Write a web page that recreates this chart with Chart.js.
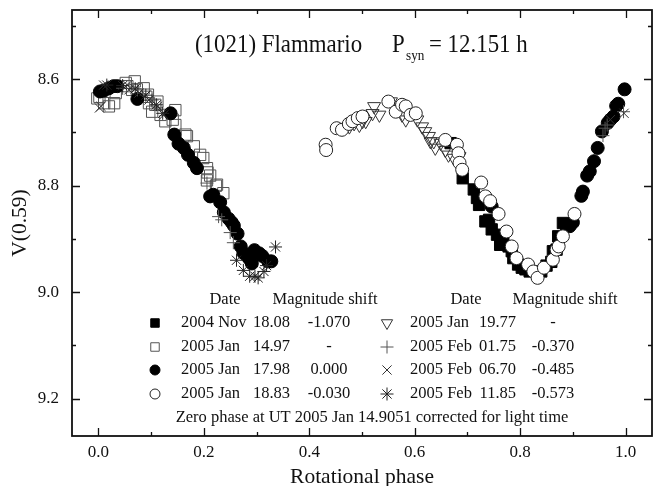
<!DOCTYPE html>
<html><head><meta charset="utf-8">
<script src="https://cdn.jsdelivr.net/npm/chart.js@4"></script>
<style>html,body{margin:0;padding:0;background:#fff;}#wrap{width:654px;height:486px;}</style>
</head><body><div id="wrap"><canvas id="c" width="654" height="486"></canvas></div>
<script>
// ---------- DATA ----------
const xTickValues = [0.0, 0.2, 0.4, 0.6, 0.8, 1.0];
const xMinorValues = [0.1, 0.3, 0.5, 0.7, 0.9];
const yTickValues = [8.6, 8.8, 9.0, 9.2];
const yMinorValues = [8.5, 8.7, 8.9, 9.1];

const seriesMonths = ['2004 Nov', '2005 Jan', '2005 Jan', '2005 Jan', '2005 Jan', '2005 Feb', '2005 Feb', '2005 Feb'];
const seriesDays   = ['18.08', '14.97', '17.98', '18.83', '19.77', '01.75', '06.70', '11.85'];
const seriesShifts = ['-1.070', '-', '0.000', '-0.030', '-', '-0.370', '-0.485', '-0.573'];

const nov18Phase = [0.668,0.691,0.712,0.718,0.722,0.734,0.741,0.746,0.756,0.762,0.768,0.778,0.784,0.787,0.796,0.803,0.810,0.818,0.840,0.850,0.859,0.862,0.869,0.872,0.881,0.887];
const nov18Mag   = [8.720,8.786,8.807,8.823,8.836,8.867,8.864,8.882,8.892,8.911,8.907,8.914,8.923,8.936,8.948,8.954,8.957,8.961,8.961,8.950,8.943,8.923,8.920,8.895,8.870,8.873];

const jan14Phase = [-0.002,0.002,0.011,0.020,0.030,0.033,0.052,0.055,0.064,0.069,0.073,0.086,0.091,0.094,0.096,0.102,0.108,0.112,0.118,0.127,0.141,0.146,0.146,0.165,0.168,0.181,0.193,0.199,0.206,0.212,0.206,0.207,0.223,0.225,0.237];
const jan14Mag   = [8.636,8.633,8.645,8.651,8.645,8.626,8.607,8.613,8.620,8.604,8.619,8.617,8.633,8.629,8.645,8.661,8.648,8.642,8.667,8.679,8.676,8.658,8.686,8.704,8.707,8.726,8.742,8.748,8.767,8.781,8.790,8.775,8.800,8.798,8.814];

const jan17Phase = [0.003,0.011,0.020,0.029,0.036,0.074,0.137,0.144,0.152,0.162,0.170,0.181,0.187,0.212,0.218,0.231,0.238,0.247,0.253,0.257,0.264,0.270,0.275,0.282,0.286,0.291,0.296,0.305,0.311,0.322,0.328,
                    0.746,0.894,0.900,0.916,0.919,0.927,0.932,0.940,0.947,0.955,0.966,0.971,0.977,0.982,0.986,0.998];
const jan17Mag   = [8.623,8.621,8.617,8.613,8.613,8.637,8.664,8.704,8.721,8.729,8.742,8.757,8.767,8.820,8.817,8.831,8.850,8.862,8.869,8.875,8.890,8.914,8.926,8.932,8.937,8.946,8.921,8.927,8.932,8.942,8.942,
                    8.839,8.876,8.869,8.819,8.811,8.781,8.773,8.754,8.729,8.698,8.682,8.676,8.670,8.650,8.646,8.619];

const jan18Phase = [0.431,0.432,0.452,0.462,0.475,0.482,0.492,0.501,0.550,0.564,0.576,0.583,0.592,0.602,0.658,0.680,0.683,0.685,0.690,0.726,0.734,0.743,0.759,0.774,0.784,0.793,0.815,0.825,0.833,0.845,0.862,0.869,0.873,0.881,0.903];
const jan18Mag   = [8.723,8.733,8.692,8.695,8.684,8.679,8.673,8.670,8.642,8.661,8.648,8.651,8.667,8.664,8.714,8.723,8.739,8.757,8.770,8.794,8.820,8.829,8.853,8.886,8.914,8.936,8.948,8.961,8.973,8.954,8.939,8.920,8.914,8.895,8.853];

const jan19Phase = [0.476,0.485,0.495,0.501,0.507,0.520,0.523,0.533,0.555,0.563,0.576,0.583,0.605,0.614,0.620,0.627,0.630,0.636,0.639,0.649,0.658,0.664,0.674,0.685];
const jan19Mag   = [8.689,8.683,8.686,8.679,8.679,8.664,8.651,8.667,8.642,8.654,8.667,8.676,8.676,8.689,8.698,8.707,8.717,8.717,8.729,8.720,8.733,8.742,8.748,8.745];

const feb01Phase = [0.046,0.074,0.102,0.206,0.228,0.234,0.250,0.256,0.957,0.961,0.965,0.996];
const feb01Mag   = [8.617,8.620,8.639,8.795,8.858,8.864,8.888,8.907,8.706,8.692,8.686,8.661];

const feb06Phase = [0.002,0.005,0.010,0.055,0.058,0.077,0.096,0.112,0.124,0.971,0.997];
const feb06Mag   = [8.654,8.651,8.611,8.611,8.620,8.626,8.639,8.651,8.667,8.676,8.664];

const feb11Phase = [0.016,0.046,0.070,0.090,0.110,0.122,0.262,0.275,0.287,0.297,0.303,0.314,0.319,0.336];
const feb11Mag   = [8.611,8.612,8.618,8.630,8.648,8.664,8.940,8.959,8.970,8.970,8.973,8.961,8.950,8.915];

// ---------- STYLES ----------
const FONT = "'Liberation Serif', 'Times New Roman', serif";
const seriesXY = [[nov18Phase,nov18Mag],[jan14Phase,jan14Mag],[jan17Phase,jan17Mag],[jan18Phase,jan18Mag],
                  [jan19Phase,jan19Mag],[feb01Phase,feb01Mag],[feb06Phase,feb06Mag],[feb11Phase,feb11Mag]];
const styles = [
  {ps:'rect', r:8, lr:6, rot:0, bg:'#000', bc:'#000', order:7},
  {ps:'rect', r:8, lr:6, rot:0, bg:'rgba(0,0,0,0)', bc:'#555', order:8},
  {ps:'circle', r:6.5, lr:5, rot:0, bg:'#000', bc:'#000', order:6},
  {ps:'circle', r:6.5, lr:5, rot:0, bg:'#fff', bc:'#222', order:4},
  {ps:'triangle', r:7.5, lr:6.5, rot:180, bg:'rgba(0,0,0,0)', bc:'#333', order:5},
  {ps:'cross', r:6.5, lr:6.5, rot:0, bg:'rgba(0,0,0,0)', bc:'#555', order:3},
  {ps:'crossRot', r:6.5, lr:6.5, rot:0, bg:'rgba(0,0,0,0)', bc:'#333', order:2},
  {ps:'star', r:6.5, lr:6.5, rot:0, bg:'rgba(0,0,0,0)', bc:'#222', order:1}
];

const datasets = seriesXY.map((xy, i) => ({
  label: seriesMonths[i] + ' ' + seriesDays[i],
  data: xy[0].map((p, k) => ({x: p, y: xy[1][k]})),
  pointStyle: styles[i].ps,
  pointRadius: styles[i].r,
  pointRotation: styles[i].rot,
  pointBackgroundColor: styles[i].bg,
  pointBorderColor: styles[i].bc,
  pointBorderWidth: 1,
  showLine: false,
  order: styles[i].order
}));

// ---------- PLUGINS ----------
// keep the plot frame flush with the right edge like the reference
const areaPlugin = {
  id: 'areaFix',
  afterLayout(chart) {
    const a = chart.chartArea, x = chart.scales.x;
    a.right = chart.width - 2;
    a.width = a.right - a.left;
    x.right = a.right;
    x.width = a.width;
    x.configure();
  }
};

const framePlugin = {
  id: 'frame',
  afterDatasetsDraw(chart) {
    const {ctx, chartArea: a, scales: {x, y}} = chart;
    ctx.save();
    ctx.strokeStyle = '#111';
    ctx.lineWidth = 1.8;
    ctx.strokeRect(a.left, a.top, a.right - a.left, a.bottom - a.top);
    ctx.lineWidth = 1.3;
    const tickX = (vals, len) => vals.forEach(v => {
      const px = Math.round(x.getPixelForValue(v)) + 0.5;
      ctx.beginPath();
      ctx.moveTo(px, a.bottom); ctx.lineTo(px, a.bottom - len);
      ctx.moveTo(px, a.top); ctx.lineTo(px, a.top + len);
      ctx.stroke();
    });
    const tickY = (vals, len) => vals.forEach(v => {
      const py = Math.round(y.getPixelForValue(v)) + 0.5;
      ctx.beginPath();
      ctx.moveTo(a.left, py); ctx.lineTo(a.left + len, py);
      ctx.moveTo(a.right, py); ctx.lineTo(a.right - len, py);
      ctx.stroke();
    });
    tickX(xTickValues, 8); tickX(xMinorValues, 4);
    tickY(yTickValues, 8); tickY(yMinorValues, 4);
    ctx.restore();
  }
};

const textPlugin = {
  id: 'texts',
  afterDraw(chart) {
    const ctx = chart.ctx;
    ctx.save();
    ctx.fillStyle = '#111';
    // Title (slightly condensed, like the reference)
    ctx.save();
    ctx.textBaseline = 'alphabetic';
    ctx.textAlign = 'left';
    ctx.translate(195, 52);
    ctx.scale(0.88, 1);
    ctx.font = '26px ' + FONT;
    ctx.fillText('(1021) Flammario', 0, 0);
    ctx.fillText('P', (392 - 195) / 0.88, 0);
    ctx.fillText('= 12.151 h', (429 - 195) / 0.88, 0);
    ctx.font = '15px ' + FONT;
    ctx.fillText('syn', (406 - 195) / 0.88, 8);
    ctx.restore();

    // Legend
    ctx.font = '16.5px ' + FONT;
    ctx.textBaseline = 'middle';
    const headerY = 300;
    const rowsY = [323, 347, 370, 394];
    ctx.textAlign = 'center';
    ctx.fillText('Date', 225, headerY);
    ctx.fillText('Magnitude shift', 325, headerY);
    ctx.fillText('Date', 466, headerY);
    ctx.fillText('Magnitude shift', 565, headerY);
    const cols = [
      {mx: 155, monthX: 181, dayR: 290, shiftC: 329},
      {mx: 387, monthX: 410, dayR: 516, shiftC: 553}
    ];
    for (let i = 0; i < 8; i++) {
      const c = cols[Math.floor(i / 4)];
      const yy = rowsY[i % 4];
      const st = styles[i];
      ctx.save();
      ctx.lineWidth = 1;
      ctx.strokeStyle = st.bc;
      ctx.fillStyle = st.bg;
      Chart.helpers.drawPoint(ctx, {pointStyle: st.ps, radius: st.lr, rotation: st.rot, borderWidth: 1}, c.mx, yy);
      ctx.restore();
      ctx.textAlign = 'left';
      ctx.fillText(seriesMonths[i], c.monthX, yy);
      ctx.textAlign = 'right';
      ctx.fillText(seriesDays[i], c.dayR, yy);
      ctx.textAlign = 'center';
      ctx.fillText(seriesShifts[i], c.shiftC, yy);
    }
    ctx.textAlign = 'center';
    ctx.fillText('Zero phase at UT 2005 Jan 14.9051 corrected for light time', 372, 418);
    ctx.restore();
  }
};

// ---------- CHART ----------
new Chart(document.getElementById('c'), {
  type: 'scatter',
  data: {datasets},
  options: {
    responsive: false,
    devicePixelRatio: 1,
    animation: false,
    events: [],
    layout: {padding: {top: 10, right: 2, left: 0, bottom: 0}},
    plugins: {legend: {display: false}, tooltip: {enabled: false}},
    scales: {
      x: {
        type: 'linear', min: -0.05, max: 1.05,
        grid: {display: false, drawTicks: false},
        border: {display: false},
        afterBuildTicks: s => { s.ticks = xTickValues.map(v => ({value: v})); },
        afterFit: s => { s.height = 50; s.paddingLeft = 0; s.paddingRight = 0; },
        ticks: {
          color: '#111', padding: 6,
          font: {family: FONT, size: 17},
          callback: v => Number(v).toFixed(1)
        },
        title: {display: true, text: 'Rotational phase', color: '#111',
                font: {family: FONT, size: 21.5, lineHeight: 1}, padding: {top: 0, bottom: -2}}
      },
      y: {
        type: 'linear', min: 8.47, max: 9.27, reverse: true,
        grid: {display: false, drawTicks: false},
        border: {display: false},
        afterBuildTicks: s => { s.ticks = yTickValues.map(v => ({value: v})); },
        afterFit: s => { s.width = 72; s.paddingTop = 0; s.paddingBottom = 0; },
        ticks: {
          color: '#111', padding: 13,
          font: {family: FONT, size: 17},
          callback: v => Number(v).toFixed(1)
        },
        title: {display: true, text: 'V(0.59)', color: '#111',
                font: {family: FONT, size: 21.5, lineHeight: 1}, padding: {top: 9.5, bottom: 0}}
      }
    }
  },
  plugins: [areaPlugin, framePlugin, textPlugin]
});
</script></body></html>
